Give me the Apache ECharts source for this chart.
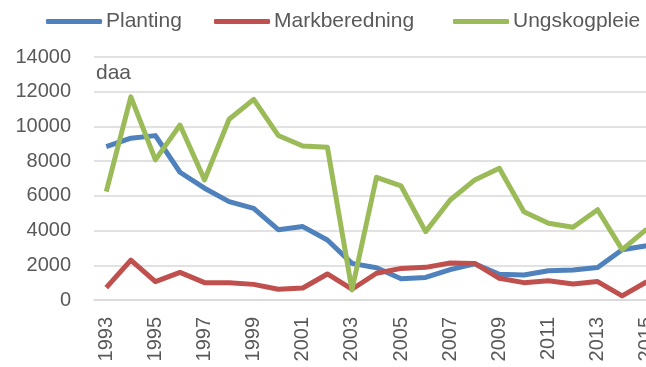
<!DOCTYPE html>
<html>
<head>
<meta charset="utf-8">
<script src="https://cdn.jsdelivr.net/npm/echarts@6/dist/echarts.min.js"></script>
<style>
  html, body { margin: 0; padding: 0; background: #fff; overflow: hidden; }
  /* The plot runs a little past the right edge of the window */
  #chart { width: 670px; height: 367px; }
</style>
</head>
<body>
<div id="chart"></div>
<script>
// Years on the category axis
const years = ['1993','1994','1995','1996','1997','1998','1999','2000','2001','2002','2003',
  '2004','2005','2006','2007','2008','2009','2010','2011','2012','2013','2014','2015'];

// Area (daa) per year for each silviculture activity
const planting = [8840, 9320, 9470, 7360, 6440, 5670, 5280, 4050, 4230, 3460, 2110,
  1860, 1220, 1300, 1750, 2080, 1480, 1440, 1690, 1730, 1870, 2900, 3130];
const markberedning = [710, 2300, 1060, 1590, 1000, 1000, 900, 620, 690, 1500, 620,
  1540, 1820, 1880, 2130, 2110, 1250, 1000, 1110, 920, 1060, 240, 1050];
const ungskogpleie = [6240, 11700, 8070, 10080, 6920, 10410, 11560, 9480, 8870, 8800, 580,
  7070, 6570, 3940, 5760, 6920, 7590, 5090, 4420, 4190, 5200, 2900, 4080];

// Y-axis tick values
const yTicks = [0, 2000, 4000, 6000, 8000, 10000, 12000, 14000];

const seriesNames = ['Planting', 'Markberedning', 'Ungskogpleie'];
const colors = ['#4F81BD', '#C0504D', '#9BBB59'];
const legendLeft = [46, 214, 453];
const textColor = '#595959';
const gridColor = '#D9D9D9';
const font = 'Liberation Sans, Arial, sans-serif';

const chart = echarts.init(document.getElementById('chart'), null, { renderer: 'canvas' });

function lineSeries(name, data, color) {
  return {
    name: name,
    type: 'line',
    data: data,
    symbol: 'none',
    smooth: false,
    lineStyle: { width: 5, color: color, join: 'round' },
    itemStyle: { color: color }
  };
}

// One legend block per series so each entry sits at its own spot
const legends = seriesNames.map((name, i) => ({
  top: 11,
  left: legendLeft[i],
  padding: 0,
  itemWidth: 56,
  itemHeight: 5,
  itemGap: 0,
  icon: 'roundRect',
  data: [name],
  textStyle: { color: textColor, fontSize: 21, fontFamily: font, padding: [0, 0, 0, -1] }
}));

chart.setOption({
  animation: false,
  backgroundColor: '#fff',
  color: colors,
  textStyle: { fontFamily: font },
  legend: legends,
  graphic: [{
    type: 'text',
    left: 96,
    top: 63,
    style: { text: 'daa', fill: textColor, fontSize: 21, fontFamily: font }
  }],
  grid: { left: 94, width: 565, top: 57, height: 243, containLabel: false },
  xAxis: {
    type: 'category',
    data: years,
    boundaryGap: true,
    axisLine: { show: true, lineStyle: { color: gridColor, width: 1.5 } },
    axisTick: { show: false },
    axisLabel: {
      interval: 1,
      rotate: 90,
      color: textColor,
      fontSize: 20,
      fontFamily: font,
      margin: 17
    }
  },
  yAxis: {
    type: 'value',
    min: yTicks[0],
    max: yTicks[yTicks.length - 1],
    interval: yTicks[1] - yTicks[0],
    axisLine: { show: false },
    axisTick: { show: false },
    splitLine: { lineStyle: { color: gridColor, width: 1.5 } },
    axisLabel: {
      color: textColor,
      fontSize: 20,
      fontFamily: font,
      margin: 23,
      formatter: v => String(v)
    }
  },
  series: [
    lineSeries(seriesNames[0], planting, colors[0]),
    lineSeries(seriesNames[1], markberedning, colors[1]),
    lineSeries(seriesNames[2], ungskogpleie, colors[2])
  ]
});
</script>
</body>
</html>
